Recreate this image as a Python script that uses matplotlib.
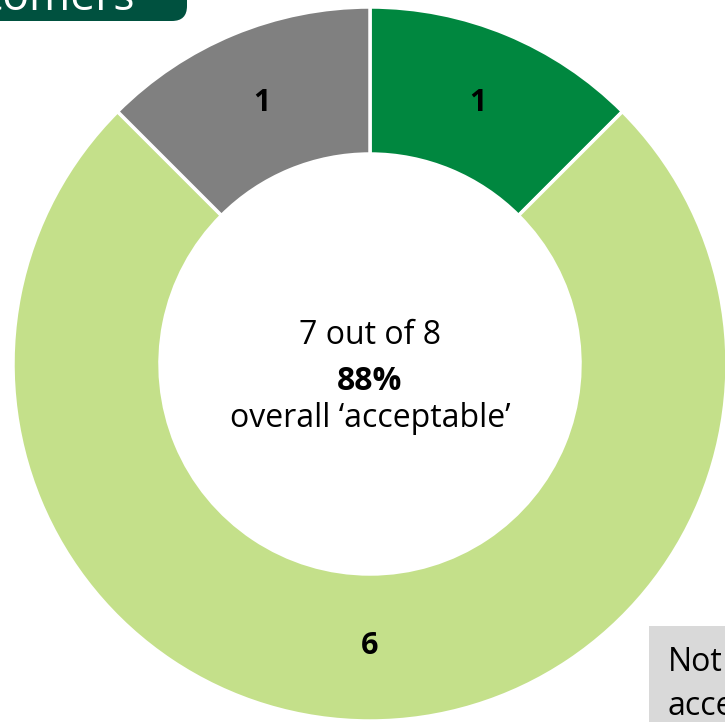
import matplotlib.pyplot as plt
from matplotlib.patches import FancyBboxPatch, Rectangle

# Resultados por categoria
categorias = ['Acceptable (top)', 'Acceptable', 'Not acceptable']
contagens = [1, 6, 1]
cores = ['#00873F', '#C4E08A', '#808080']

total = sum(contagens)
aceitaveis = contagens[0] + contagens[1]
percentual = round(100 * aceitaveis / total)

plt.rcParams['font.family'] = ['Open Sans', 'DejaVu Sans']

fig = plt.figure(figsize=(7.25, 7.22), dpi=100)
ax = fig.add_axes([0, 0, 1, 1])

# Rosca com rótulos de contagem no meio do anel
wedges, textos, autotextos = ax.pie(
    contagens,
    colors=cores,
    startangle=90,
    counterclock=False,
    center=(370, 358),
    radius=357,
    wedgeprops=dict(width=147, edgecolor='white', linewidth=2.5),
    autopct=lambda p: f"{round(p * total / 100):d}",
    pctdistance=0.79,
    textprops=dict(fontsize=22, fontweight='bold', color='black'),
    frame=True,
)
ax.set_xlim(0, 725)
ax.set_ylim(0, 722)
ax.set_aspect('equal')
ax.axis('off')

# Texto central
ax.text(370, 378, f"{aceitaveis} out of {total}", ha='center', va='baseline', fontsize=23)
ax.text(370, 332, f"{percentual}%", ha='center', va='baseline', fontsize=23, fontweight='bold')
ax.text(370, 295, "overall \u2018acceptable\u2019", ha='center', va='baseline', fontsize=23)

# Caixa do título (cortada no canto superior)
ax.add_patch(FancyBboxPatch((-30, 701), 217, 60, boxstyle="round,pad=0,rounding_size=15",
                            facecolor='#00513F', edgecolor='none', clip_on=False))
ax.text(135, 712, "Customers", ha='right', va='baseline', fontsize=32, color='white')

# Caixa da nota (cortada no canto inferior direito)
ax.add_patch(Rectangle((649, -10), 120, 106, facecolor='#D9D9D9', edgecolor='none'))
ax.text(668, 51, "Not", ha='left', va='baseline', fontsize=23, color='black')
ax.text(668, 7, "acceptable", ha='left', va='baseline', fontsize=23, color='black')

fig.savefig('out.png', dpi=100)
